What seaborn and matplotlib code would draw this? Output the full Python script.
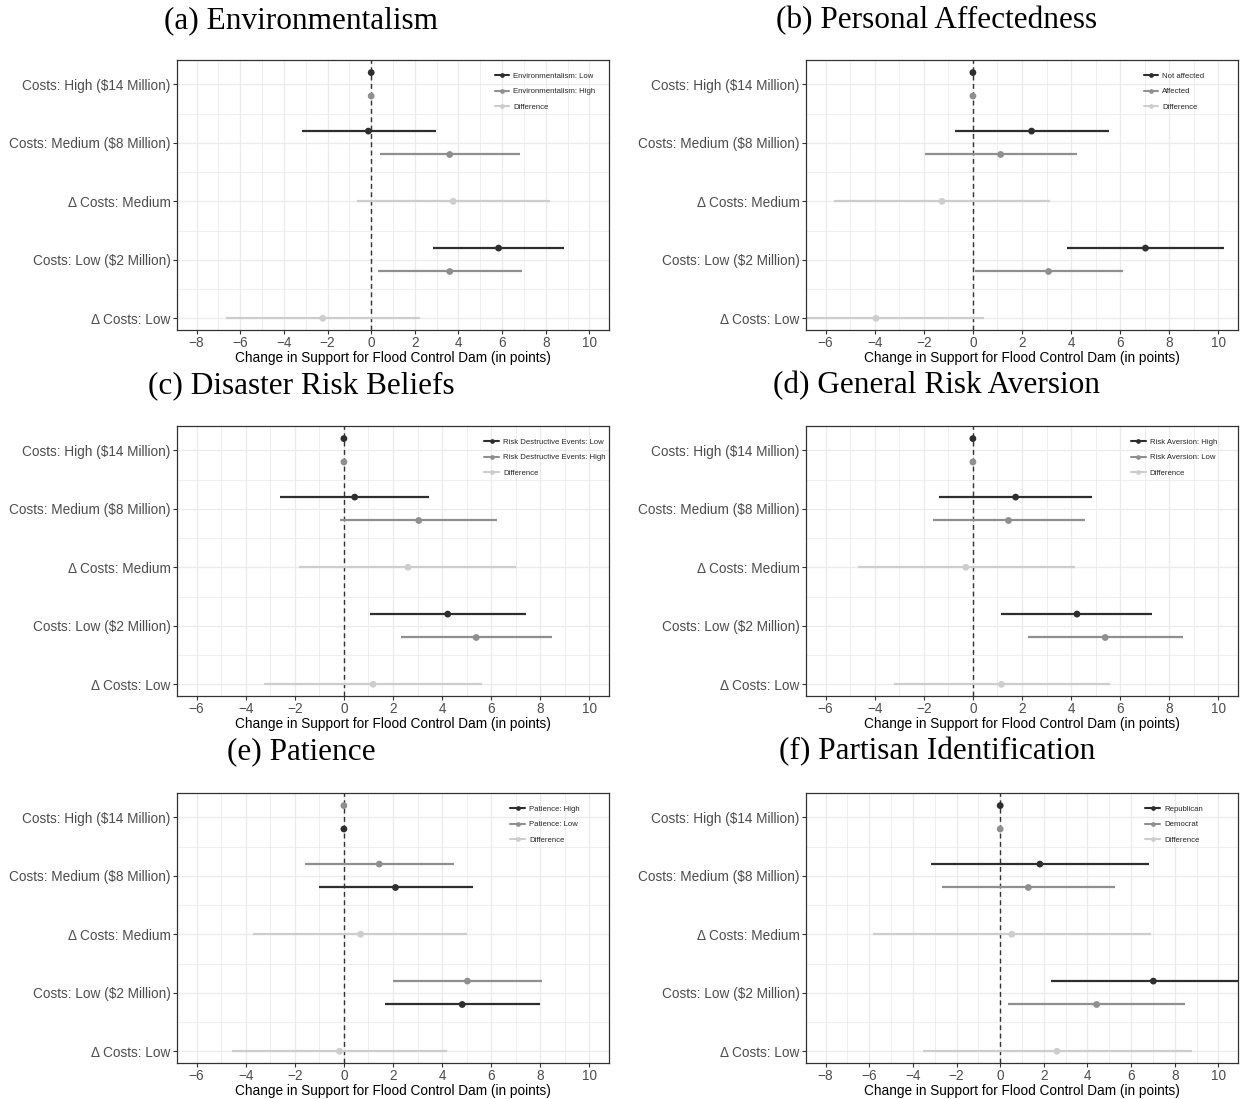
import numpy as np
import pandas as pd
import matplotlib
matplotlib.use("Agg")
import matplotlib.pyplot as plt
import seaborn as sns
from matplotlib.lines import Line2D
from matplotlib.ticker import FixedLocator

sns.set_theme(style="white")
plt.rcParams["font.family"] = ["Liberation Sans", "DejaVu Sans"]

# ---------------------------
# Data (estimate, lower CI, upper CI)
# rows of the two groups: High, Medium, Low costs; rows of difference: Medium, Low
# ---------------------------
CATEGORIES = ["Costs: High ($14 Million)", "Costs: Medium ($8 Million)",
              "\u0394 Costs: Medium", "Costs: Low ($2 Million)", "\u0394 Costs: Low"]
GROUP_ROWS = [0, 1, 3]
DIFF_ROWS = [2, 4]

ENV_LOW = [(0.0, 0.0, 0.0), (-0.13, -3.18, 2.95), (5.84, 2.82, 8.85)]
ENV_HIGH = [(0.0, 0.0, 0.0), (3.60, 0.42, 6.84), (3.60, 0.33, 6.90)]
ENV_DIFF = [(3.76, -0.67, 8.18), (-2.22, -6.67, 2.24)]

AFF_NOT = [(0.0, 0.0, 0.0), (2.39, -0.73, 5.53), (7.03, 3.82, 10.24)]
AFF_YES = [(0.0, 0.0, 0.0), (1.13, -1.97, 4.23), (3.08, 0.08, 6.10)]
AFF_DIFF = [(-1.26, -5.65, 3.15), (-3.95, -6.95, 0.45)]

RISK_LOW = [(0.0, 0.0, 0.0), (0.44, -2.60, 3.48), (4.23, 1.05, 7.40)]
RISK_HIGH = [(0.0, 0.0, 0.0), (3.05, -0.15, 6.24), (5.39, 2.32, 8.48)]
RISK_DIFF = [(2.61, -1.81, 7.03), (1.19, -3.24, 5.61)]

AVERS_HIGH = [(0.0, 0.0, 0.0), (1.74, -1.39, 4.87), (4.24, 1.16, 7.31)]
AVERS_LOW = [(0.0, 0.0, 0.0), (1.45, -1.63, 4.56), (5.39, 2.24, 8.56)]
AVERS_DIFF = [(-0.29, -4.68, 4.16), (1.16, -3.23, 5.58)]

PAT_HIGH = [(0.0, 0.0, 0.0), (2.10, -1.02, 5.26), (4.82, 1.69, 8.00)]
PAT_LOW = [(0.0, 0.0, 0.0), (1.44, -1.58, 4.50), (5.03, 2.02, 8.06)]
PAT_DIFF = [(0.68, -3.69, 5.03), (-0.18, -4.55, 4.19)]

PARTY_REP = [(0.0, 0.0, 0.0), (1.82, -3.18, 6.80), (7.02, 2.33, 11.70)]
PARTY_DEM = [(0.0, 0.0, 0.0), (1.29, -2.65, 5.24), (4.42, 0.38, 8.47)]
PARTY_DIFF = [(0.53, -5.85, 6.93), (2.60, -3.56, 8.80)]

TITLES = ["(a) Environmentalism", "(b) Personal Affectedness", "(c) Disaster Risk Beliefs",
          "(d) General Risk Aversion", "(e) Patience", "(f) Partisan Identification"]
SERIES_NAMES = [
    ["Environmentalism: Low", "Environmentalism: High", "Difference"],
    ["Not affected", "Affected", "Difference"],
    ["Risk Destructive Events: Low", "Risk Destructive Events: High", "Difference"],
    ["Risk Aversion: High", "Risk Aversion: Low", "Difference"],
    ["Patience: High", "Patience: Low", "Difference"],
    ["Republican", "Democrat", "Difference"],
]
PANEL_DATA = [
    (ENV_LOW, ENV_HIGH, ENV_DIFF),
    (AFF_NOT, AFF_YES, AFF_DIFF),
    (RISK_LOW, RISK_HIGH, RISK_DIFF),
    (AVERS_HIGH, AVERS_LOW, AVERS_DIFF),
    (PAT_HIGH, PAT_LOW, PAT_DIFF),
    (PARTY_REP, PARTY_DEM, PARTY_DIFF),
]
X_TICK_MIN = [-8, -6, -6, -6, -6, -8]
SECOND_ON_TOP = [False, False, False, False, True, False]

COLORS = ["#2e2e2e", "#8f8f8f", "#cdcdcd"]

# ---------------------------
# Layout
# ---------------------------
W, H = 1241, 1099
fig = plt.figure(figsize=(W / 100, H / 100), dpi=100)

col_left = [177, 806]
row_bottom = [330, 696, 1063]
ax_w, ax_h = 432, 270
title_x = [0.2426, 0.755]
title_y = [21, 386, 752]

DODGE = 0.2
GRID = "#ebebeb"

for i in range(6):
    r, c = divmod(i, 2)
    ax = fig.add_axes([col_left[c] / W, 1 - row_bottom[r] / H, ax_w / W, ax_h / H])
    g1, g2, diff = PANEL_DATA[i]
    names = SERIES_NAMES[i]
    pal = dict(zip(names, COLORS))

    off1, off2 = (-DODGE, DODGE) if not SECOND_ON_TOP[i] else (DODGE, -DODGE)
    rows = []
    for k, row in enumerate(GROUP_ROWS):
        rows.append((names[0], row + off1) + g1[k])
        rows.append((names[1], row + off2) + g2[k])
    for k, row in enumerate(DIFF_ROWS):
        rows.append((names[2], row) + diff[k])
    df = pd.DataFrame(rows, columns=["series", "ypos", "est", "lo", "hi"])

    # grid
    xmin = X_TICK_MIN[i]
    for v in range(xmin - 1, 12):
        ax.axvline(v, color=GRID, lw=1.0 if v % 2 == 0 else 0.6, zorder=0)
    for y in np.arange(0, 4.6, 0.5):
        ax.axhline(y, color=GRID, lw=1.0 if y % 1 == 0 else 0.6, zorder=0)

    ax.axvline(0, color="#333333", lw=1.0, ls=(0, (3.5, 2.5)), zorder=2)
    ax.hlines(df["ypos"], df["lo"], df["hi"], colors=df["series"].map(pal), lw=1.6, zorder=3)
    sns.scatterplot(data=df, x="est", y="ypos", hue="series", palette=pal, s=24,
                    edgecolor="none", linewidth=0, legend=False, ax=ax, zorder=4)

    ax.set_xlim(xmin - 0.05 * (10 - xmin), 10 + 0.05 * (10 - xmin))
    ax.set_ylim(4.2, -0.415)
    ax.xaxis.set_major_locator(FixedLocator(list(range(xmin, 11, 2))))
    ax.set_xticklabels([f"{v}".replace("-", "\u2212") for v in range(xmin, 11, 2)])
    ax.set_yticks(range(5))
    ax.set_yticklabels(CATEGORIES)
    ax.tick_params(axis="both", which="major", length=3, width=0.8, color="#333333",
                   labelcolor="#4d4d4d", labelsize=9.8, pad=1.5, left=True, bottom=True)
    ax.set_xlabel("Change in Support for Flood Control Dam (in points)", fontsize=9.8,
                  color="black", labelpad=0.5)
    ax.set_ylabel("")
    for sp in ax.spines.values():
        sp.set_color("#333333")
        sp.set_linewidth(0.9)
        sp.set_zorder(6)

    handles = [Line2D([0], [0], color=col, lw=1.5, marker="o", markersize=3.4,
                      markeredgewidth=0) for col in COLORS]
    ax.legend(handles, names, loc="center", bbox_to_anchor=(0.852, 0.883), frameon=False,
              fontsize=5.6, handlelength=1.9, labelspacing=1.0, handletextpad=0.5,
              borderpad=0.2)

    fig.text(title_x[c], 1 - title_y[r] / H, TITLES[i], ha="center", va="center",
             fontsize=22.5, family=["Liberation Serif", "DejaVu Serif"], color="black")

fig.savefig("out.png", dpi=100)
